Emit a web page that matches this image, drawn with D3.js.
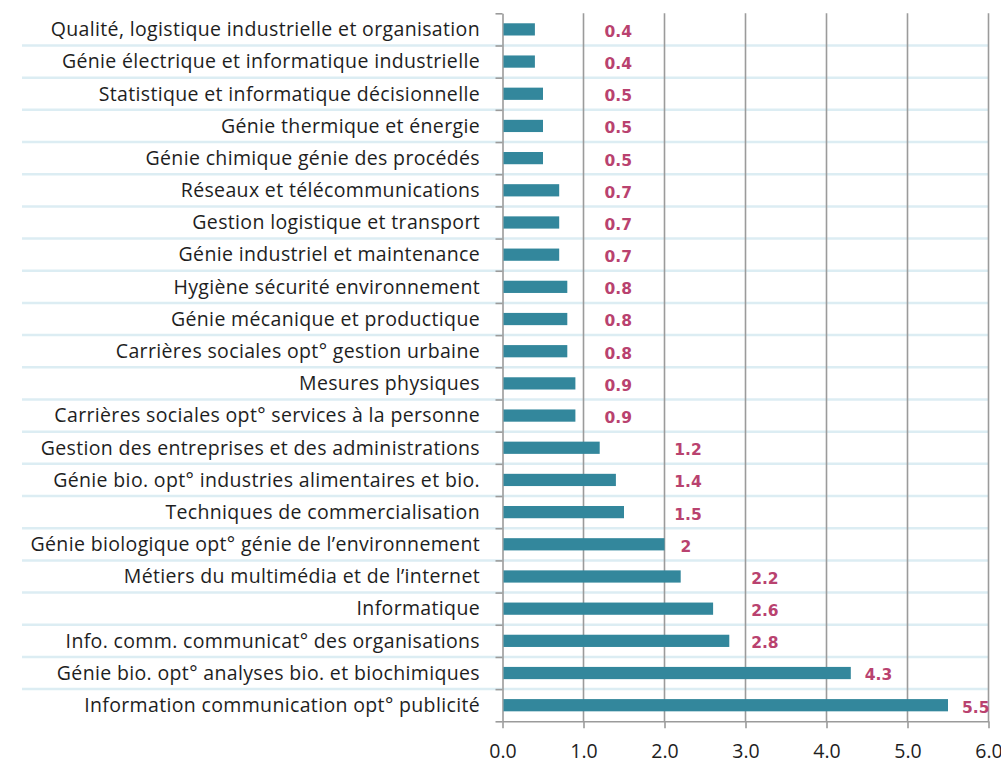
<!DOCTYPE html>
<html>
<head>
<meta charset="utf-8">
<script src="https://cdn.jsdelivr.net/npm/d3@7"></script>
<style>
	body { margin: 0; background: #fff; }
	svg { display: block; }
	.cat-label { font-family: "Open Sans", sans-serif; font-size: 19.5px; letter-spacing: 0.35px; fill: #1e1e1e; }
	.val-label { font-family: "DejaVu Sans", sans-serif; font-weight: bold; font-size: 15.5px; fill: #b9426f; }
	.x.axis text { font-family: "Open Sans", sans-serif; font-size: 19.5px; fill: #1e1e1e; }
</style>
</head>
<body>
<div id="chart"></div>
<script>

// ----------------------------------
// DATA
// ----------------------------------

const categories = [
	"Qualité, logistique industrielle et organisation",
	"Génie électrique et informatique industrielle",
	"Statistique et informatique décisionnelle",
	"Génie thermique et énergie",
	"Génie chimique génie des procédés",
	"Réseaux et télécommunications",
	"Gestion logistique et transport",
	"Génie industriel et maintenance",
	"Hygiène sécurité environnement",
	"Génie mécanique et productique",
	"Carrières sociales opt° gestion urbaine",
	"Mesures physiques",
	"Carrières sociales opt° services à la personne",
	"Gestion des entreprises et des administrations",
	"Génie bio. opt° industries alimentaires et bio.",
	"Techniques de commercialisation",
	"Génie biologique opt° génie de l’environnement",
	"Métiers du multimédia et de l’internet",
	"Informatique",
	"Info. comm. communicat° des organisations",
	"Génie bio. opt° analyses bio. et biochimiques",
	"Information communication opt° publicité"
];

const values = [0.4, 0.4, 0.5, 0.5, 0.5, 0.7, 0.7, 0.7, 0.8, 0.8, 0.8, 0.9, 0.9,
	1.2, 1.4, 1.5, 2, 2.2, 2.6, 2.8, 4.3, 5.5];

const xTicks = [0, 1, 2, 3, 4, 5, 6];

// ----------------------------------
// SETUP
// ----------------------------------

const width = 1001,
	height = 759,
	margin = {top: 13.3, left: 502.5, right: 12.5, bottom: 37.7},
	innerHeight = height - margin.top - margin.bottom,
	innerWidth = width - margin.left - margin.right,
	barColor = '#33879c',
	gridColor = '#9b9b9b',
	sepColor = '#dcedf3';

const svg = d3.select('#chart')
	.append('svg')
	.attr('width', width)
	.attr('height', height);

const xScale = d3.scaleLinear()
	.domain([0, 6])
	.range([margin.left, margin.left + innerWidth]);

// rows = full band per category, bars = padded band
const rows = d3.scaleBand()
	.domain(categories)
	.range([margin.top, margin.top + innerHeight]);

const bars = d3.scaleBand()
	.domain(categories)
	.range([margin.top, margin.top + innerHeight])
	.paddingInner(0.62)
	.paddingOuter(0.31);

const rowIndex = d3.scaleLinear()
	.domain([0, categories.length])
	.range([margin.top, margin.top + innerHeight]);

// ----------------------------------
// ROW SEPARATORS
// ----------------------------------

svg.append('g')
	.selectAll('line')
	.data(categories.slice(1))
	.join('line')
	.attr('x1', 22)
	.attr('x2', xScale(6))
	.attr('y1', d => rows(d))
	.attr('y2', d => rows(d))
	.attr('stroke', sepColor)
	.attr('stroke-width', 2.5);

// ----------------------------------
// GRID + AXES
// ----------------------------------

svg.append('g')
	.selectAll('line')
	.data(xTicks.slice(1))
	.join('line')
	.attr('x1', d => xScale(d))
	.attr('x2', d => xScale(d))
	.attr('y1', margin.top)
	.attr('y2', margin.top + innerHeight)
	.attr('stroke', gridColor)
	.attr('stroke-width', 1.6);

const xAxis = svg.append('g')
	.attr('class', 'x axis')
	.attr('transform', `translate(0, ${margin.top + innerHeight})`)
	.call(d3.axisBottom(xScale)
		.tickValues(xTicks)
		.tickFormat(d3.format('.1f'))
		.tickSize(7)
		.tickSizeOuter(0));

xAxis.select('.domain').attr('stroke', gridColor).attr('stroke-width', 1.6);
xAxis.selectAll('.tick line').attr('stroke', gridColor).attr('stroke-width', 1.6);
xAxis.selectAll('.tick text').attr('dy', '0.71em').attr('y', 23);

const yAxis = svg.append('g')
	.attr('class', 'y axis')
	.attr('transform', `translate(${margin.left}, 0)`)
	.call(d3.axisLeft(rowIndex)
		.tickValues(d3.range(categories.length + 1))
		.tickFormat('')
		.tickSize(7)
		.tickSizeOuter(0));

yAxis.select('.domain').attr('stroke', gridColor).attr('stroke-width', 1.6);
yAxis.selectAll('.tick line').attr('stroke', gridColor).attr('stroke-width', 1.6);

// ----------------------------------
// BARS
// ----------------------------------

svg.append('g')
	.selectAll('rect')
	.data(categories)
	.join('rect')
	.attr('x', xScale(0) + 1)
	.attr('y', d => bars(d))
	.attr('width', (d, i) => xScale(values[i]) - xScale(0) - 1)
	.attr('height', bars.bandwidth())
	.attr('fill', barColor);

// ----------------------------------
// LABELS
// ----------------------------------

svg.append('g')
	.selectAll('text')
	.data(categories)
	.join('text')
	.attr('class', 'cat-label')
	.attr('x', 480)
	.attr('y', d => rows(d) + rows.bandwidth() / 2)
	.attr('dy', '0.35em')
	.attr('text-anchor', 'end')
	.text(d => d);

// value labels snap to a column per band unless the bar runs past it
function labelX(v){
	let col = null;
	if (v <= 1) col = 1.26;
	else if (v <= 2) col = 2.12;
	else if (v <= 3) col = 3.07;
	const barEnd = xScale(v) + 16;
	return col === null ? barEnd - 2 : Math.max(xScale(col), barEnd);
}

svg.append('g')
	.selectAll('text')
	.data(categories)
	.join('text')
	.attr('class', 'val-label')
	.attr('x', (d, i) => labelX(values[i]))
	.attr('y', d => rows(d) + rows.bandwidth() / 2 + 2)
	.attr('dy', '0.35em')
	.text((d, i) => String(values[i]));

</script>
</body>
</html>
